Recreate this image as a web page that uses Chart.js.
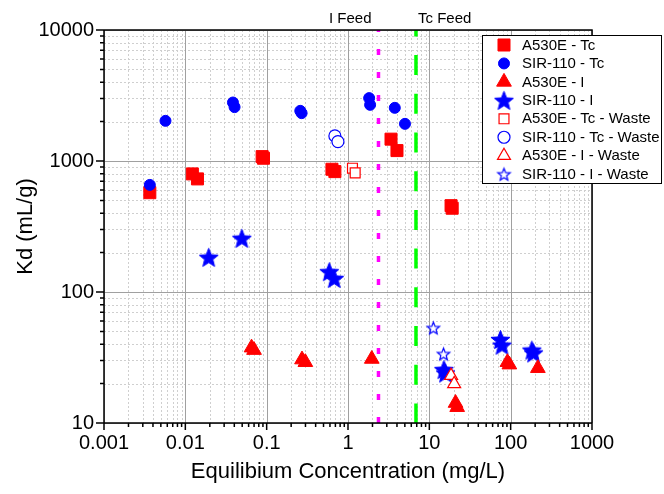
<!DOCTYPE html>
<html><head><meta charset="utf-8">
<script src="https://cdn.jsdelivr.net/npm/chart.js@4/dist/chart.umd.min.js"></script>
<style>html,body{margin:0;padding:0;background:#fff}#wrap{width:664px;height:494px}</style>
</head><body><div id="wrap"><canvas id="c" width="664" height="494"></canvas></div>
<script>
// ---------- data ----------
const xTicks = [0.001, 0.01, 0.1, 1, 10, 100, 1000];
const yTicks = [10, 100, 1000, 10000];
const feedLines = [2.37, 6.85];
const feedLabels = ['I Feed', 'Tc Feed'];
const seriesNames = ['A530E - Tc', 'SIR-110 - Tc', 'A530E - I', 'SIR-110 - I',
  'A530E - Tc - Waste', 'SIR-110 - Tc - Waste', 'A530E - I - Waste', 'SIR-110 - I - Waste'];

const a530eTc = [[0.00366,573],[0.0122,797],[0.0141,730],[0.088,1080],[0.0914,1050],
  [0.635,865],[0.69,830],[3.38,1468],[4.0,1201],[18.5,456],[19.1,436]];
const sir110Tc = [[0.00366,657],[0.0057,2026],[0.0385,2796],[0.0403,2578],[0.259,2415],
  [0.269,2318],[1.82,3020],[1.87,2684],[3.76,2546],[5.02,1921]];
const a530eI = [[0.0652,37.6],[0.0699,36.0],[0.272,30.5],[0.299,29.1],[1.96,30.8],
  [21.0,14.2],[22.0,13.2],[91.2,29.1],[96.4,27.9],[216,26.2]];
const sir110I = [[0.0194,184],[0.0495,257],[0.589,143],[0.677,127],[15.1,25.6],[15.8,24.1],
  [74.8,43.4],[78.2,39.3],[182,36],[191,34.3]];
const a530eTcWaste = [[1.135,881],[1.225,811]];
const sir110TcWaste = [[0.69,1555],[0.752,1407]];
const a530eIWaste = [[18.5,23.0],[20.2,19.9]];
const sir110IWaste = [[11.2,53.2],[14.96,33.7]];

// ---------- helpers ----------
const RED = '#ff0000', BLUE = '#0000ff';
const FONT = "'Liberation Sans', Arial, sans-serif";
const toXY = a => a.map(p => ({x: p[0], y: p[1]}));

function starCanvas(R, fill, stroke, lw) {
  const s = Math.ceil(2 * R + lw + 2);
  const c = document.createElement('canvas'); c.width = s; c.height = s;
  const g = c.getContext('2d');
  const cx = s / 2, cy = s / 2 + R * 0.095, r = R * 0.43;
  g.beginPath();
  for (let i = 0; i < 10; i++) {
    const a = -Math.PI / 2 + i * Math.PI / 5, rr = i % 2 ? r : R;
    g.lineTo(cx + rr * Math.cos(a), cy + rr * Math.sin(a));
  }
  g.closePath();
  if (fill) { g.fillStyle = fill; g.fill(); }
  g.lineWidth = lw; g.strokeStyle = stroke; g.lineJoin = 'miter'; g.stroke();
  return c;
}
const starFilled = starCanvas(10, BLUE, BLUE, 1);
const starOpen = starCanvas(6.5, '#ffffff', BLUE, 1.2);

function pts(name, data, style, radius, fill, stroke, bw, order) {
  return {label: name, data: toXY(data), pointStyle: style, pointRadius: radius,
    backgroundColor: fill, borderColor: stroke, borderWidth: bw, showLine: false, order: order,
    inLegend: true};
}

const datasets = [
  pts(seriesNames[0], a530eTc, 'rect', 8.5, RED, RED, 1, 7),
  pts(seriesNames[1], sir110Tc, 'circle', 5.5, BLUE, BLUE, 1, 6),
  pts(seriesNames[2], a530eI, 'triangle', 8.5, RED, RED, 1, 4),
  pts(seriesNames[3], sir110I, starFilled, 10, BLUE, BLUE, 1, 5),
  pts(seriesNames[4], a530eTcWaste, 'rect', 7, '#ffffff', RED, 1.2, 3),
  pts(seriesNames[5], sir110TcWaste, 'circle', 6, '#ffffff', BLUE, 1.2, 2),
  pts(seriesNames[6], a530eIWaste, 'triangle', 7.5, '#ffffff', RED, 1.2, 0),
  pts(seriesNames[7], sir110IWaste, starOpen, 6.5, '#ffffff', BLUE, 1.2, 1),
  {type: 'line', label: feedLabels[0], data: [{x: feedLines[0], y: yTicks[yTicks.length-1]}, {x: feedLines[0], y: yTicks[0]}],
   borderColor: '#ff00ff', borderWidth: 3.5, borderDash: [6, 17], borderDashOffset: 4, pointRadius: 0, order: 20, inLegend: false},
  {type: 'line', label: feedLabels[1], data: [{x: feedLines[1], y: yTicks[yTicks.length-1]}, {x: feedLines[1], y: yTicks[0]}],
   borderColor: '#00ff00', borderWidth: 3.5, borderDash: [20, 18.7], borderDashOffset: 13.6, pointRadius: 0, order: 20, inLegend: false}
];

function minorValues(min, max) {
  const out = [];
  for (let e = Math.floor(Math.log10(min)); e < Math.ceil(Math.log10(max)); e++) {
    for (let k = 2; k <= 9; k++) { const v = k * Math.pow(10, e); if (v > min && v < max) out.push(v); }
  }
  return out;
}
const crisp = v => Math.round(v) + 0.5;

const framePlugin = {
  id: 'frame',
  beforeDatasetsDraw(chart) {
    const {ctx, chartArea: a, scales: {x, y}} = chart;
    ctx.save();
    ctx.lineWidth = 1;
    ctx.strokeStyle = '#cfcfcf'; ctx.setLineDash([2, 2]);
    ctx.beginPath();
    minorValues(x.min, x.max).forEach(v => { const p = crisp(x.getPixelForValue(v)); ctx.moveTo(p, a.top); ctx.lineTo(p, a.bottom); });
    minorValues(y.min, y.max).forEach(v => { const p = crisp(y.getPixelForValue(v)); ctx.moveTo(a.left, p); ctx.lineTo(a.right, p); });
    ctx.stroke();
    ctx.setLineDash([]); ctx.strokeStyle = '#a0a0a0';
    ctx.beginPath();
    xTicks.forEach(v => { const p = crisp(x.getPixelForValue(v)); ctx.moveTo(p, a.top); ctx.lineTo(p, a.bottom); });
    yTicks.forEach(v => { const p = crisp(y.getPixelForValue(v)); ctx.moveTo(a.left, p); ctx.lineTo(a.right, p); });
    ctx.stroke();
    ctx.restore();
  },
  afterDatasetsDraw(chart) {
    const {ctx, chartArea: a, scales: {x, y}} = chart;
    ctx.save();
    ctx.strokeStyle = '#000'; ctx.lineWidth = 1.5; ctx.setLineDash([]);
    ctx.beginPath();
    ctx.moveTo(a.left, a.top); ctx.lineTo(a.right, a.top); ctx.lineTo(a.right, a.bottom);
    ctx.moveTo(a.left, a.top); ctx.lineTo(a.left, a.bottom); ctx.lineTo(a.right, a.bottom);
    xTicks.forEach(v => { const p = x.getPixelForValue(v); ctx.moveTo(p, a.bottom); ctx.lineTo(p, a.bottom + 7); });
    minorValues(x.min, x.max).forEach(v => { const p = x.getPixelForValue(v); ctx.moveTo(p, a.bottom); ctx.lineTo(p, a.bottom + 4); });
    yTicks.forEach(v => { const p = y.getPixelForValue(v); ctx.moveTo(a.left, p); ctx.lineTo(a.left - 8, p); });
    minorValues(y.min, y.max).forEach(v => { const p = y.getPixelForValue(v); ctx.moveTo(a.left, p); ctx.lineTo(a.left - 4, p); });
    ctx.stroke();
    ctx.fillStyle = '#000'; ctx.font = '15px ' + FONT; ctx.textBaseline = 'alphabetic';
    const p0 = x.getPixelForValue(feedLines[0]), p1 = x.getPixelForValue(feedLines[1]);
    ctx.textAlign = 'right'; ctx.fillText(feedLabels[0], p0 - 7, a.top - 7);
    ctx.textAlign = 'left'; ctx.fillText(feedLabels[1], p1 + 2, a.top - 7);
    ctx.restore();
  },
  afterDraw(chart) {
    const {ctx} = chart;
    const L = 482.5, T = 35.5, W = 179, H = 148;
    ctx.save();
    ctx.fillStyle = '#fff'; ctx.fillRect(L, T, W, H);
    ctx.strokeStyle = '#000'; ctx.lineWidth = 1; ctx.setLineDash([]);
    ctx.strokeRect(L, T, W, H);
    const dsList = chart.data.datasets.filter(d => d.inLegend);
    dsList.forEach((d, i) => {
      const cy = 45 + i * 18.45;
      ctx.fillStyle = d.backgroundColor; ctx.strokeStyle = d.borderColor; ctx.lineWidth = d.borderWidth;
      Chart.helpers.drawPoint(ctx, {pointStyle: d.pointStyle, radius: d.pointRadius, rotation: 0, borderWidth: d.borderWidth}, 504, cy);
      ctx.fillStyle = '#000'; ctx.font = '15px ' + FONT; ctx.textAlign = 'left'; ctx.textBaseline = 'middle';
      ctx.fillText(d.label, 522, cy + 0.5);
    });
    ctx.restore();
  }
};

const fmt = v => String(v);

new Chart(document.getElementById('c'), {
  type: 'scatter',
  data: {datasets},
  plugins: [framePlugin],
  options: {
    responsive: false, animation: false, devicePixelRatio: 1, events: [],
    layout: {padding: {top: 30, right: 72, left: 0, bottom: 0}},
    plugins: {legend: {display: false}, tooltip: {enabled: false}},
    scales: {
      x: {
        type: 'logarithmic', min: xTicks[0], max: xTicks[xTicks.length - 1],
        afterBuildTicks: s => { s.ticks = xTicks.map(v => ({value: v})); },
        afterFit: s => { s.height = 71; },
        ticks: {autoSkip: false, maxRotation: 0, padding: 0, color: '#000', font: {family: FONT, size: 20}, callback: v => fmt(v)},
        grid: {display: false}, border: {display: false},
        title: {display: true, text: 'Equilibium Concentration (mg/L)', color: '#000', font: {family: FONT, size: 22}, padding: {top: 0, bottom: 9}}
      },
      y: {
        type: 'logarithmic', min: yTicks[0], max: yTicks[yTicks.length - 1],
        afterBuildTicks: s => { s.ticks = yTicks.map(v => ({value: v})); },
        afterFit: s => { s.width = 104; },
        ticks: {autoSkip: false, padding: 2, color: '#000', font: {family: FONT, size: 20}, callback: v => fmt(v)},
        grid: {display: false}, border: {display: false},
        title: {display: true, text: 'Kd (mL/g)', color: '#000', font: {family: FONT, size: 22}, padding: {top: 13, bottom: 0}}
      }
    }
  }
});
</script>
</body></html>
